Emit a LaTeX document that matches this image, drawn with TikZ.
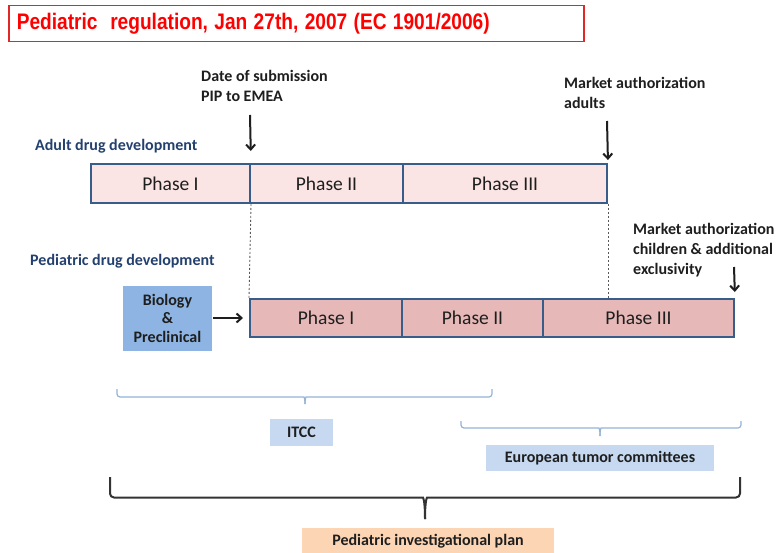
\documentclass[tikz,border=0pt]{standalone}
\usepackage{fontspec}
\setmainfont{Carlito}
\newfontfamily\titlefont{Liberation Sans}
\usetikzlibrary{arrows.meta}
\definecolor{boxblue}{RGB}{56,93,138}
\definecolor{adultpink}{RGB}{251,228,228}
\definecolor{pedpink}{RGB}{230,185,184}
\definecolor{bioblue}{RGB}{141,180,226}
\definecolor{lightblue}{RGB}{198,217,241}
\definecolor{peach}{RGB}{252,213,181}
\definecolor{navy}{RGB}{35,64,110}
\definecolor{textdark}{RGB}{30,30,30}
\definecolor{bracketblue}{RGB}{149,179,215}
\definecolor{titlered}{RGB}{255,0,0}
\definecolor{titleborder}{RGB}{225,40,40}
\begin{document}
\begin{tikzpicture}[x=1pt,y=-1pt,
  phasebox/.style={draw=boxblue, line width=2pt, inner sep=0pt, text=textdark,
    font=\fontsize{19.5}{22}\selectfont},
  adultbox/.style={phasebox, fill=adultpink, minimum height=39pt},
  pedbox/.style={phasebox, fill=pedpink, minimum height=38pt},
  lbl/.style={anchor=west, align=left, inner sep=0pt, text=textdark,
    font=\fontsize{16}{20}\selectfont\bfseries},
  navylbl/.style={anchor=west, inner sep=0pt, text=navy,
    font=\fontsize{16}{20}\selectfont\bfseries},
  tagbox/.style={inner sep=0pt, text=textdark, font=\fontsize{16}{20}\selectfont\bfseries},
  arr/.style={-{Straight Barb[length=5pt,width=9pt,line width=2pt]}, line width=2pt, textdark},
  dots/.style={gray!70!black, line width=0.9pt, dash pattern=on 2pt off 2pt},
  thinbrace/.style={bracketblue, line width=1.2pt, rounded corners=3pt},
  bigbrace/.style={black!80, line width=2pt, rounded corners=4pt}
]
\useasboundingbox (0,0) rectangle (778,553);
\fill[white] (0,0) rectangle (778,553);

% title
\node[draw=titleborder, line width=1.5pt, anchor=north west, inner xsep=8pt, inner ysep=0pt,
  text width=559pt, minimum height=36pt, align=left, text=titlered,
  font=\titlefont\fontsize{22.5}{24}\selectfont\bfseries] (title) at (8,5)
  {\scalebox{0.85}[1]{Pediatric\ \ regulation, Jan 27th, 2007 (EC 1901/2006)}};

% adult row
\node[adultbox, minimum width=159pt] (aI) at (170.5,183.5) {Phase I};
\node[adultbox, minimum width=153pt] (aII) at (326.5,183.5) {Phase II};
\node[adultbox, minimum width=204pt] (aIII) at (505,183.5) {Phase III};

% pediatric row
\node[pedbox, minimum width=152pt] (pI) at (326,318) {Phase I};
\node[pedbox, minimum width=141pt] (pII) at (472.5,318) {Phase II};
\node[pedbox, minimum width=191pt] (pIII) at (638.5,318) {Phase III};

% biology box
\node[fill=bioblue, minimum width=89pt, minimum height=65pt, inner sep=0pt, align=center,
  text=textdark, font=\fontsize{16}{18.5}\selectfont\bfseries] (bio) at (167.5,318)
  {Biology\\\&\\Preclinical};
\draw[arr, shorten <=1pt, shorten >=6pt] (bio.east) -- (pI.west);

% labels
\node[lbl] (date) at (201,86) {Date of submission\\PIP to EMEA};
\node[lbl] (madult) at (564,92.5) {Market authorization\\adults};
\node[lbl, font=\fontsize{16}{19.7}\selectfont\bfseries] (mchild) at (633,250)
  {Market authorization\\children \& additional\\exclusivity};
\node[navylbl] (adultlbl) at (35,146) {Adult drug development};
\node[navylbl] (pedlbl) at (30,261) {Pediatric drug development};

% down arrows
\coordinate (d1) at (250,115);
\coordinate (d2) at (607,121);
\coordinate (d3) at (734,267);
\draw[arr, shorten >=12pt] (d1) -- (aI.north east);
\draw[arr, shorten >=3pt] (d2) -- (aIII.north east);
\draw[arr, shorten >=6pt] (d3) -- (pIII.north east);

% dotted guides
\draw[dots] (aI.south east) -- (pI.north west);
\draw[dots] (aIII.south east) -- (aIII.south east |- pIII.north);

% ITCC brace
\draw[thinbrace] (117,389) -- (117,397) -- (301,397) .. controls (304,397) and (305,399) .. (305,404);
\draw[thinbrace] (492,389) -- (492,397) -- (309,397) .. controls (306,397) and (305,399) .. (305,404);
\node[tagbox, fill=lightblue, minimum width=63pt, minimum height=27pt] (itcc) at (301.5,432.5) {ITCC};

% European brace
\draw[thinbrace] (461,421) -- (461,428) -- (596,428) .. controls (599,428) and (600,430) .. (600,436);
\draw[thinbrace] (741,421) -- (741,428) -- (604,428) .. controls (601,428) and (600,430) .. (600,436);
\node[tagbox, fill=lightblue, minimum width=228pt, minimum height=26pt] (etc) at (600,458) {European tumor committees};

% big brace
\draw[bigbrace] (110,477) -- (110,497.5) -- (419,497.5) .. controls (423,497.5) and (425,500) .. (425,519);
\draw[bigbrace] (740,477) -- (740,497.5) -- (431,497.5) .. controls (427,497.5) and (425,500) .. (425,519);
\node[tagbox, fill=peach, minimum width=252pt, minimum height=26pt] (pip) at (428,541) {Pediatric investigational plan};
\end{tikzpicture}
\end{document}
